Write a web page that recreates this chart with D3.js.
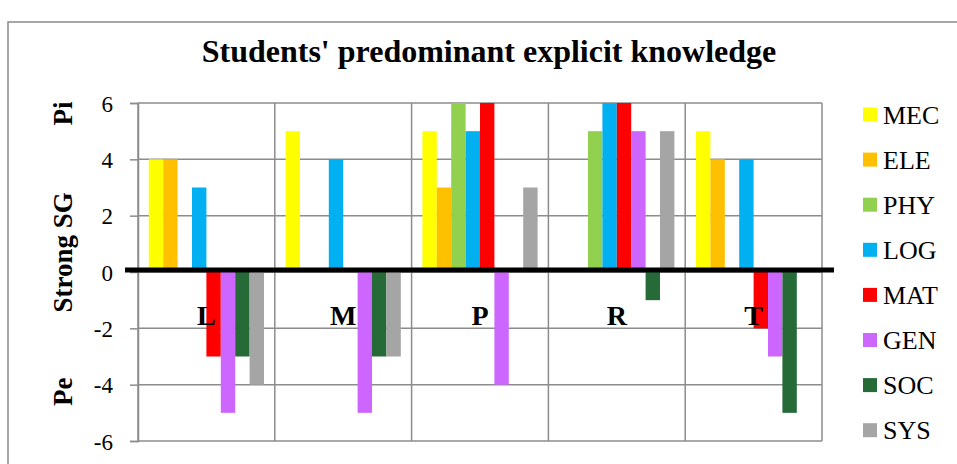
<!DOCTYPE html>
<html><head><meta charset="utf-8">
<script src="https://cdn.jsdelivr.net/npm/d3@7"></script>
<style>body{margin:0;background:#fff}svg{display:block}text{font-family:"Liberation Serif","Times New Roman",serif}</style>
</head><body>
<svg id="c" width="957" height="464"></svg>
<script>
const categories = ["L","M","P","R","T"];
const seriesNames = ["MEC","ELE","PHY","LOG","MAT","GEN","SOC","SYS"];
const seriesColors = ["#FFFF00","#FFC000","#92D050","#00B0F0","#FF0000","#CC66FF","#256A37","#A5A5A5"];
const MEC = [4,5,5,0,5];
const ELE = [4,0,3,0,4];
const PHY = [0,0,6,5,0];
const LOG = [3,4,5,6,4];
const MAT = [-3,0,6,6,-2];
const GEN = [-5,-5,-4,5,-3];
const SOC = [-3,-3,0,-1,-5];
const SYS = [-4,-3,3,5,0];
const yTicks = [-6,-4,-2,0,2,4,6];
const title = "Students' predominant explicit knowledge";
const axisLabels = [{t:"Pi",v:5.63},{t:"Strong SG",v:0.7},{t:"Pe",v:-4.25}];

const values = [MEC,ELE,PHY,LOG,MAT,GEN,SOC,SYS];
const svg = d3.select("#c");
const grid = "#8c8c8c";

const x0 = d3.scaleBand().domain(categories).range([138,822]).padding(0);
const x1 = d3.scaleBand().domain(seriesNames).range([0,x0.bandwidth()]).paddingInner(0).paddingOuter(0.75);
const y = d3.scaleLinear().domain([-6,6]).range([441,103]);

// outer frame
svg.append("rect").attr("x",8).attr("y",22).attr("width",1000).attr("height",500)
  .attr("fill","none").attr("stroke","#8a8a8a").attr("stroke-width",1.5);

// title
svg.append("text").attr("x",489).attr("y",62).attr("text-anchor","middle")
  .attr("font-weight","bold").attr("font-size",32).text(title);

// horizontal gridlines
svg.append("g").selectAll("line").data(yTicks).join("line")
  .attr("x1",138).attr("x2",822).attr("y1",d=>y(d)).attr("y2",d=>y(d))
  .attr("stroke",grid).attr("stroke-width",1.5);
// vertical gridlines at category boundaries
const bounds = categories.map(c=>x0(c)).concat([x0(categories[categories.length-1])+x0.bandwidth()]);
svg.append("g").selectAll("line").data(bounds).join("line")
  .attr("x1",d=>d).attr("x2",d=>d).attr("y1",y(6)).attr("y2",y(-6))
  .attr("stroke",grid).attr("stroke-width",1.5);

// y axis
const yAxis = d3.axisLeft(y).tickValues(yTicks).tickSize(8).tickPadding(17).tickFormat(d3.format("d"));
const ga = svg.append("g").attr("transform","translate(138,0)").call(yAxis);
ga.attr("font-family",null);
ga.select(".domain").attr("stroke",grid).attr("stroke-width",1.5);
ga.selectAll(".tick line").attr("stroke",grid).attr("stroke-width",1.5);
ga.selectAll(".tick text").attr("font-size",23).attr("fill","#000")
  .attr("dy","0.35em").text(d=>d<0?"-"+Math.abs(d):d);

// bars
const gBars = svg.append("g");
categories.forEach((c,ci)=>{
  seriesNames.forEach((s,si)=>{
    const v = values[si][ci];
    if(v===0) return;
    gBars.append("rect")
      .attr("x",x0(c)+x1(s)).attr("width",x1.bandwidth())
      .attr("y",y(Math.max(0,v))).attr("height",Math.abs(y(v)-y(0)))
      .attr("fill",seriesColors[si]);
  });
});

// zero line
svg.append("line").attr("x1",125).attr("x2",834).attr("y1",y(0)-2).attr("y2",y(0)-2)
  .attr("stroke","#000").attr("stroke-width",5);

// category labels
svg.append("g").selectAll("text").data(categories).join("text")
  .attr("x",d=>x0(d)+x0.bandwidth()/2).attr("y",325).attr("text-anchor","middle")
  .attr("font-weight","bold").attr("font-size",28).text(d=>d);

// y axis rotated labels
svg.append("g").selectAll("text").data(axisLabels).join("text")
  .attr("transform",d=>`translate(72,${y(d.v)}) rotate(-90)`).attr("text-anchor","middle")
  .attr("dy","0em")
  .attr("font-weight","bold").attr("font-size",27).text(d=>d.t);

// legend
const lg = svg.append("g");
seriesNames.forEach((s,i)=>{
  const cy = 114.5 + i*45.1;
  lg.append("rect").attr("x",863).attr("y",cy-7).attr("width",14).attr("height",14).attr("fill",seriesColors[i]);
  lg.append("text").attr("x",883).attr("y",cy+9).attr("font-size",26).text(s);
});
</script>
</body></html>
